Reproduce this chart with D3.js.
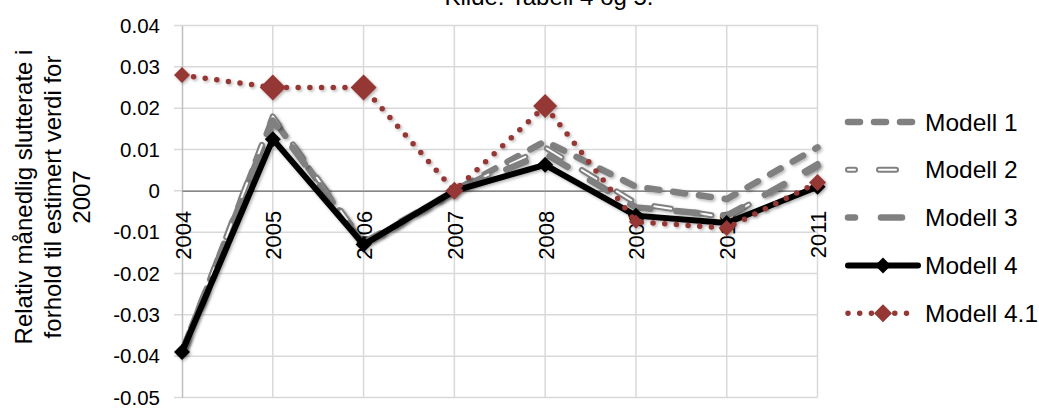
<!DOCTYPE html>
<html>
<head>
<meta charset="utf-8">
<script src="https://cdn.jsdelivr.net/npm/d3@7"></script>
<style>
  html, body { margin: 0; padding: 0; background: #fff; }
  svg { display: block; font-family: "Liberation Sans", Arial, sans-serif; }
</style>
</head>
<body>
<svg id="chart" width="1039" height="408"></svg>
<script>
// Categories and series values
const years = ["2004", "2005", "2006", "2007", "2008", "2009", "2010", "2011"];
const modell1  = [-0.039, 0.0175, -0.013, 0, 0.012, 0.001, -0.002, 0.0105];
const modell2  = [-0.039, 0.018, -0.0125, 0, 0.0105, -0.003, -0.0065, 0.0065];
const modell3  = [-0.039, 0.017, -0.013, 0, 0.009, -0.004, -0.006, 0.006];
const modell4  = [-0.039, 0.0125, -0.013, 0, 0.0063, -0.006, -0.0078, 0.001];
const modell41 = [0.028, 0.025, 0.025, 0, 0.0205, -0.0075, -0.009, 0.002];
const seriesNames = ["Modell 1", "Modell 2", "Modell 3", "Modell 4", "Modell 4.1"];
const yTicks = [0.04, 0.03, 0.02, 0.01, 0, -0.01, -0.02, -0.03, -0.04, -0.05];
const yTitleLines = ["Relativ månedlig slutterate i", "forhold til estimert verdi for", "2007"];
const chartTitle = "Kilde: Tabell 4 og 5.";

(function () {
const svg = d3.select("#chart");
const plotLeft = 182, plotRight = 817.5, plotTop = 25.5, plotBottom = 397.5;

const x = d3.scalePoint().domain(years).range([plotLeft, plotRight]);
const y = d3.scaleLinear().domain([-0.05, 0.04]).range([plotBottom, plotTop]);

const defs = svg.append("defs");
const shadow = defs.append("filter").attr("id", "shadow")
  .attr("x", "-20%").attr("y", "-20%").attr("width", "140%").attr("height", "140%");
shadow.append("feDropShadow").attr("dx", 1.5).attr("dy", 1.5)
  .attr("stdDeviation", 1.5).attr("flood-color", "#000").attr("flood-opacity", 0.3);

// Title (runs off the top edge)
svg.append("text").attr("x", 549).attr("y", 5).attr("text-anchor", "middle")
  .attr("font-size", 24).attr("fill", "#000").text(chartTitle);

// Horizontal gridlines with y-axis ticks
const gGrid = svg.append("g");
gGrid.selectAll("line.h").data(yTicks).join("line").attr("class", "h")
  .attr("x1", plotLeft - 8).attr("x2", plotRight)
  .attr("y1", d => y(d)).attr("y2", d => y(d))
  .attr("stroke", "#d9d9d9").attr("stroke-width", 1.5);
// Vertical gridlines at each category
gGrid.selectAll("line.v").data(years.slice(1)).join("line").attr("class", "v")
  .attr("x1", d => x(d)).attr("x2", d => x(d))
  .attr("y1", plotTop).attr("y2", plotBottom)
  .attr("stroke", "#d9d9d9").attr("stroke-width", 1.5);

// Y axis
const yAxis = d3.axisLeft(y).tickValues(yTicks).tickSize(0).tickPadding(22)
  .tickFormat(d => d === 0 ? "0" : d.toFixed(2));
const gy = svg.append("g").attr("transform", `translate(${plotLeft},0)`).call(yAxis);
gy.select(".domain").attr("stroke", "#bfbfbf").attr("stroke-width", 1.5);
gy.selectAll("text").attr("font-size", 20.5).attr("fill", "#000")
  .attr("font-family", "Liberation Sans, Arial, sans-serif");

// Zero line / category axis
const xAxis = d3.axisBottom(x).tickSize(0).tickFormat(d => d);
const gx = svg.append("g").attr("transform", `translate(0,${y(0)})`).call(xAxis);
gx.select(".domain").attr("stroke", "#878787").attr("stroke-width", 1.5);
gx.selectAll(".tick text")
  .attr("font-size", 22).attr("fill", "#000")
  .attr("font-family", "Liberation Sans, Arial, sans-serif")
  .attr("text-anchor", "end")
  .attr("transform", "translate(0,20) rotate(-90)")
  .attr("x", 0).attr("y", 8).attr("dy", null);

// Y axis title
svg.append("g").selectAll("text").data(yTitleLines).join("text")
  .attr("transform", (d, i) => `translate(${[32, 61, 90][i]},197) rotate(-90)`)
  .attr("text-anchor", "middle").attr("font-size", 24).attr("fill", "#000")
  .text(d => d);

// Series styles
const gray = "#808080", red = "#953735";
const line = d3.line().x((d, i) => x(years[i])).y(d => y(d));
const plot = svg.append("g");

function dashed(g, values, dash, width) {
  g.append("path").attr("d", line(values)).attr("fill", "none")
    .attr("stroke", gray).attr("stroke-width", width)
    .attr("stroke-dasharray", dash).attr("stroke-linecap", "round")
    .attr("stroke-linejoin", "round");
}
function outlined(g, values, dash) {
  dashed(g, values, dash, 6);
  g.append("path").attr("d", line(values)).attr("fill", "none")
    .attr("stroke", "#fff").attr("stroke-width", 2)
    .attr("stroke-dasharray", dash).attr("stroke-linecap", "round")
    .attr("stroke-linejoin", "round");
}
const diamond = s => `M0,${-s / 2}L${s / 2},0L0,${s / 2}L${-s / 2},0Z`;

// Modell 1
const s1 = plot.append("g").attr("filter", "url(#shadow)");
dashed(s1, modell1, "12,14", 6.5);
// Modell 2
const s2 = plot.append("g").attr("filter", "url(#shadow)");
outlined(s2, modell2, "17,24");
// Modell 3
const s3 = plot.append("g").attr("filter", "url(#shadow)");
dashed(s3, modell3, "21,26", 6.5);
// Modell 4
const s4 = plot.append("g").attr("filter", "url(#shadow)");
s4.append("path").attr("d", line(modell4)).attr("fill", "none")
  .attr("stroke", "#000").attr("stroke-width", 6).attr("stroke-linejoin", "round");
s4.selectAll("path.m").data(modell4).join("path").attr("class", "m")
  .attr("d", diamond(16))
  .attr("transform", (d, i) => `translate(${x(years[i])},${y(d)})`)
  .attr("fill", "#000");
// Modell 4.1
const markerSize41 = [16, 26, 26, 18, 24, 14, 16, 17];
const s5 = plot.append("g").attr("filter", "url(#shadow)");
s5.append("path").attr("d", line(modell41)).attr("fill", "none")
  .attr("stroke", red).attr("stroke-width", 5.5)
  .attr("stroke-dasharray", "0,11.7").attr("stroke-linecap", "round");
s5.selectAll("path.m").data(modell41).join("path").attr("class", "m")
  .attr("d", (d, i) => diamond(markerSize41[i]))
  .attr("transform", (d, i) => `translate(${x(years[i])},${y(d)})`)
  .attr("fill", red);

// Legend
const lg = svg.append("g");
const lx1 = 848, lx2 = 918, lxm = 883;
seriesNames.forEach((name, i) => {
  const ly = 122 + i * 47.8;
  const g = lg.append("g");
  const seg = d3.line()([[lx1, ly], [lx2, ly]]);
  if (i === 0 || i === 2) {
    g.append("path").attr("d", seg).attr("stroke", gray).attr("stroke-width", 6.5)
      .attr("stroke-linecap", "round").attr("stroke-dasharray", i === 0 ? "12,14" : "21,26")
      .attr("stroke-dashoffset", i === 0 ? 0 : 14);
  } else if (i === 1) {
    [[gray, 6], ["#fff", 2]].forEach(([c, w]) =>
      g.append("path").attr("d", seg).attr("stroke", c).attr("stroke-width", w)
        .attr("stroke-linecap", "round").attr("stroke-dasharray", "17,24")
        .attr("stroke-dashoffset", 10));
  } else if (i === 3) {
    g.append("path").attr("d", seg).attr("stroke", "#000").attr("stroke-width", 6)
      .attr("stroke-linecap", "round");
    g.append("path").attr("d", diamond(16)).attr("transform", `translate(${lxm},${ly})`).attr("fill", "#000");
  } else {
    g.append("path").attr("d", seg).attr("stroke", red).attr("stroke-width", 5.5)
      .attr("stroke-linecap", "round").attr("stroke-dasharray", "0,11.7");
    g.append("path").attr("d", diamond(18)).attr("transform", `translate(${lxm},${ly})`).attr("fill", red);
  }
  g.append("text").attr("x", 925).attr("y", ly + 8.5).attr("font-size", 24.5)
    .attr("fill", "#000").text(name);
});
})();
</script>
</body>
</html>
